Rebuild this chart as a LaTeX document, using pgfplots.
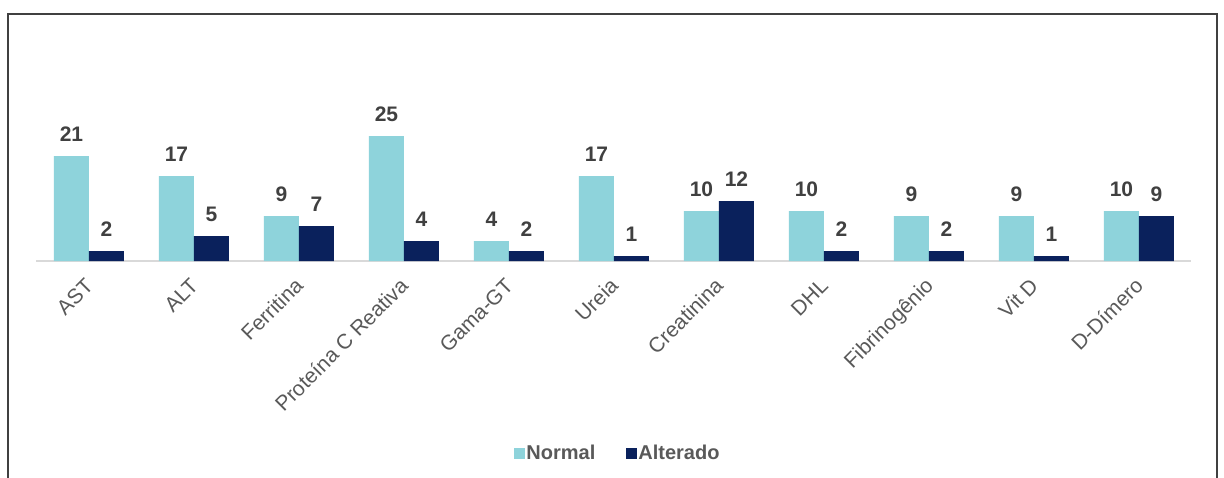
\documentclass[border=0pt]{standalone}
\usepackage{fontspec}
\setmainfont{Liberation Sans}
\usepackage{pgfplots}
\pgfplotsset{compat=1.18}

\definecolor{normalc}{HTML}{8ED3DB}
\definecolor{alterc}{HTML}{0A215C}
\definecolor{labelc}{HTML}{404040}
\definecolor{tickc}{HTML}{595959}
\definecolor{axisc}{HTML}{D9D9D9}

\begin{document}
\begin{tikzpicture}
% page = 1224 x 477, axis origin at pixel (36.5, 261)
\useasboundingbox (-36.5pt,-216pt) rectangle (1187.5pt,261pt);
\fill[white] (-36.5pt,-216pt) rectangle (1187.5pt,261pt);
\draw[line width=2.2pt, color=labelc] (-28.5pt,-240pt) -- (-28.5pt,247pt) -- (1180.5pt,247pt) -- (1180.5pt,-240pt);

\begin{axis}[
  scale only axis,
  width=1155pt, height=200pt,
  xmin=-0.5, xmax=10.5,
  ymin=0, ymax=40,
  ybar=0pt,
  bar width=35pt,
  axis y line=none,
  axis x line*=bottom,
  x axis line style={draw=axisc, line width=1.3pt},
  xtick={0,...,10},
  xtick style={draw=none},
  ytick=\empty,
  xticklabels={AST, ALT, Ferritina, Proteína C Reativa, Gama-GT, Ureia, Creatinina, DHL, Fibrinogênio, Vit D, D-Dímero},
  xticklabel style={xshift=5.5pt, yshift=-22pt, rotate=45, anchor=base east, inner sep=0pt,
    font=\fontsize{21}{24}\selectfont, text=tickc},
  /pgf/number format/assume math mode=true,
  nodes near coords,
  every node near coord/.append style={anchor=base, yshift=15pt, inner sep=0pt,
    font=\fontsize{21}{24}\selectfont\bfseries, text=labelc},
  legend columns=2,
  legend style={at={(0.503,-0.96)}, anchor=center, draw=none, fill=none,
    font=\fontsize{20}{24}\selectfont\bfseries, text=tickc,
    /tikz/every even column/.append style={column sep=29pt},
    nodes={inner sep=1.5pt}},
  legend image code/.code={\fill[#1,draw=none] (0pt,-5.5pt) rectangle (11pt,5.5pt);},
]
\addplot[fill=normalc, draw=none] coordinates {
  (0,21) (1,17) (2,9) (3,25) (4,4) (5,17) (6,10) (7,10) (8,9) (9,9) (10,10)
};
\addplot[fill=alterc, draw=none] coordinates {
  (0,2) (1,5) (2,7) (3,4) (4,2) (5,1) (6,12) (7,2) (8,2) (9,1) (10,9)
};
\legend{Normal, Alterado}
\end{axis}
\end{tikzpicture}
\end{document}
